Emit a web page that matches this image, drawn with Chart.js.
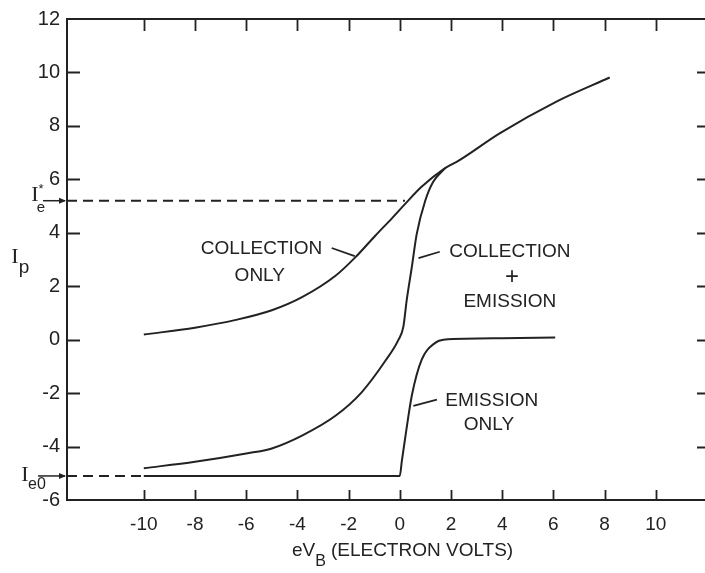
<!DOCTYPE html>
<html>
<head>
<meta charset="utf-8">
<script src="https://cdn.jsdelivr.net/npm/chart.js@4"></script>
<style>
  html, body { margin: 0; padding: 0; background: #fff; overflow: hidden; }
  canvas { display: block; }
</style>
</head>
<body>
<canvas id="probeChart" width="712" height="573"></canvas>
<script>
// eV_B (electron volts) vs I_p
const xTickValues = [-10, -8, -6, -4, -2, 0, 2, 4, 6, 8, 10];

const collOnlyX = [-10, -8, -6.4, -5, -3.8, -2.5, -1.75, -0.95, -0.3, 0.2, 0.85, 1.77, 2.3, 3.9, 6.1, 8.2];
const collOnlyY = [0.19, 0.45, 0.74, 1.1, 1.6, 2.4, 3.07, 3.9, 4.55, 5.07, 5.72, 6.42, 6.7, 7.72, 8.9, 9.81];

const collEmisX = [-10, -8, -6, -5, -3.8, -2.5, -1.5, -0.57, -0.05, 0.14, 0.27, 0.47, 0.66, 0.99, 1.3, 1.77];
const collEmisY = [-4.81, -4.57, -4.26, -4.07, -3.58, -2.84, -1.98, -0.8, 0, 0.49, 1.48, 2.72, 3.95, 5.19, 5.9, 6.42];

const emisOnlyX = [-10, -5, 0, 0.08, 0.21, 0.47, 0.86, 1.38, 1.7, 4, 6.07];
const emisOnlyY = [-5.1, -5.1, -5.1, -4.54, -3.68, -2.09, -0.74, -0.12, 0, 0.05, 0.08];

const ieStar = 5.2;   // I_e*
const ieZero = -5.1;  // I_e0
const ieStarDashX = [-13, 0.2];
const ieZeroDashX = [-13, -10];

// curve labels: text, eV, I
const labelText = ['COLLECTION', 'ONLY', 'COLLECTION', '+', 'EMISSION', 'EMISSION', 'ONLY'];
const labelX = [-5.4, -5.47, 4.3, 4.38, 4.3, 3.59, 3.48];
const labelY = [3.39, 2.39, 3.28, 2.32, 1.4, -2.28, -3.17];
// leader strokes: x0, y0, x1, y1
const leaders = [
    [-2.66, 3.43, -1.76, 3.13],
    [0.73, 3.05, 1.56, 3.29],
    [0.53, -2.48, 1.45, -2.24]
];

const ink = '#222';
const fontFam = "'Liberation Sans', Arial, sans-serif";

function pts(xs, ys) {
    return xs.map((x, i) => ({ x: x, y: ys[i] }));
}

const curveStyle = {
    borderColor: ink,
    borderWidth: 2,
    pointRadius: 0,
    fill: false,
    cubicInterpolationMode: 'monotone'
};

const paperAxes = {
    id: 'paperAxes',
    afterDraw(chart) {
        const ctx = chart.ctx;
        const a = chart.chartArea;
        const xs = chart.scales.x;
        const ys = chart.scales.y;
        ctx.save();
        ctx.strokeStyle = ink;
        ctx.fillStyle = ink;
        ctx.lineWidth = 2;

        // top frame line
        ctx.beginPath();
        ctx.moveTo(a.left - 1, a.top);
        ctx.lineTo(a.right, a.top);
        ctx.stroke();

        // inward ticks, all four sides
        ctx.lineWidth = 1.8;
        xs.ticks.forEach(t => {
            const px = Math.round(xs.getPixelForValue(t.value)) + 0.5;
            ctx.beginPath();
            ctx.moveTo(px, a.bottom); ctx.lineTo(px, a.bottom - 10);
            ctx.moveTo(px, a.top); ctx.lineTo(px, a.top + 12);
            ctx.stroke();
        });
        ys.ticks.forEach(t => {
            if (t.value === ys.min || t.value === ys.max) return;
            const py = Math.round(ys.getPixelForValue(t.value)) + 0.5;
            ctx.beginPath();
            ctx.moveTo(a.left, py); ctx.lineTo(a.left + 13, py);
            ctx.moveTo(a.right, py); ctx.lineTo(a.right - 10, py);
            ctx.stroke();
        });

        // curve labels
        ctx.textAlign = 'center';
        ctx.textBaseline = 'middle';
        labelText.forEach((s, i) => {
            ctx.font = (s === '+' ? '24px ' : '19px ') + fontFam;
            ctx.fillText(s, xs.getPixelForValue(labelX[i]), ys.getPixelForValue(labelY[i]));
        });
        ctx.lineWidth = 1.8;
        leaders.forEach(l => {
            ctx.beginPath();
            ctx.moveTo(xs.getPixelForValue(l[0]), ys.getPixelForValue(l[1]));
            ctx.lineTo(xs.getPixelForValue(l[2]), ys.getPixelForValue(l[3]));
            ctx.stroke();
        });

        // I_e* and I_e0 markers with arrows to the axis
        [[ieStar, 43, '*'], [ieZero, 38, '0']].forEach(m => {
            const py = ys.getPixelForValue(m[0]);
            ctx.lineWidth = 1.5;
            ctx.beginPath();
            ctx.moveTo(m[1], py); ctx.lineTo(a.left - 2, py);
            ctx.stroke();
            ctx.beginPath();
            ctx.moveTo(a.left - 1, py);
            ctx.lineTo(a.left - 8, py - 3);
            ctx.lineTo(a.left - 8, py + 3);
            ctx.closePath();
            ctx.fill();
            ctx.textAlign = 'center';
            ctx.textBaseline = 'middle';
            ctx.font = "22px 'Liberation Serif', serif";
            if (m[2] === '*') {
                ctx.fillText('I', 35, py - 5);
                ctx.font = '15px ' + fontFam;
                ctx.fillText('e', 41, py + 7);
                ctx.font = '13px ' + fontFam;
                ctx.fillText('*', 41, py - 11);
            } else {
                ctx.fillText('I', 25, py - 1);
                ctx.font = '16px ' + fontFam;
                ctx.textAlign = 'left';
                ctx.fillText('e0', 28, py + 9);
            }
        });

        // y axis title I_p
        ctx.textAlign = 'center';
        ctx.font = "22px 'Liberation Serif', serif";
        ctx.fillText('I', 15, ys.getPixelForValue(3.1));
        ctx.font = '19px ' + fontFam;
        ctx.fillText('p', 24, ys.getPixelForValue(2.7));

        // x axis title eV_B (ELECTRON VOLTS)
        const ty = 551;
        ctx.textAlign = 'left';
        ctx.font = '19px ' + fontFam;
        let tx = 292;
        ctx.fillText('eV', tx, ty);
        tx += ctx.measureText('eV').width;
        ctx.font = '16px ' + fontFam;
        ctx.fillText('B', tx, ty + 11);
        tx += ctx.measureText('B').width + 5;
        ctx.font = '19px ' + fontFam;
        ctx.fillText('(ELECTRON VOLTS)', tx, ty);
        ctx.restore();
    }
};

const ctx = document.getElementById('probeChart').getContext('2d');
const probeChart = new Chart(ctx, {
    type: 'line',
    data: {
        datasets: [
            Object.assign({ label: 'Collection only', data: pts(collOnlyX, collOnlyY) }, curveStyle),
            Object.assign({ label: 'Collection + emission', data: pts(collEmisX, collEmisY) }, curveStyle),
            Object.assign({ label: 'Emission only', data: pts(emisOnlyX, emisOnlyY) }, curveStyle),
            {
                label: 'Ie*',
                data: ieStarDashX.map(x => ({ x: x, y: ieStar })),
                borderColor: ink, borderWidth: 2, borderDash: [10, 6], pointRadius: 0
            },
            {
                label: 'Ie0',
                data: ieZeroDashX.map(x => ({ x: x, y: ieZero })),
                borderColor: ink, borderWidth: 2, borderDash: [10, 6], pointRadius: 0
            }
        ]
    },
    options: {
        responsive: false,
        animation: false,
        layout: { padding: { top: 13, right: 5, left: 0, bottom: 0 } },
        scales: {
            x: {
                type: 'linear',
                min: -13,
                max: 12,
                grid: { display: false, drawTicks: false },
                border: { display: true, color: ink, width: 2 },
                ticks: { padding: 13, color: ink, font: { family: fontFam, size: 19 } },
                afterBuildTicks: s => { s.ticks = xTickValues.map(v => ({ value: v })); },
                afterFit: s => { s.height = 73; }
            },
            y: {
                min: -6,
                max: 12,
                grid: { display: false, drawTicks: false },
                border: { display: true, color: ink, width: 2 },
                ticks: { stepSize: 2, padding: 7, color: ink, font: { family: fontFam, size: 20 } },
                afterFit: s => { s.width = 67; }
            }
        },
        plugins: {
            legend: { display: false },
            tooltip: { enabled: false }
        }
    },
    plugins: [paperAxes]
});
</script>
</body>
</html>
